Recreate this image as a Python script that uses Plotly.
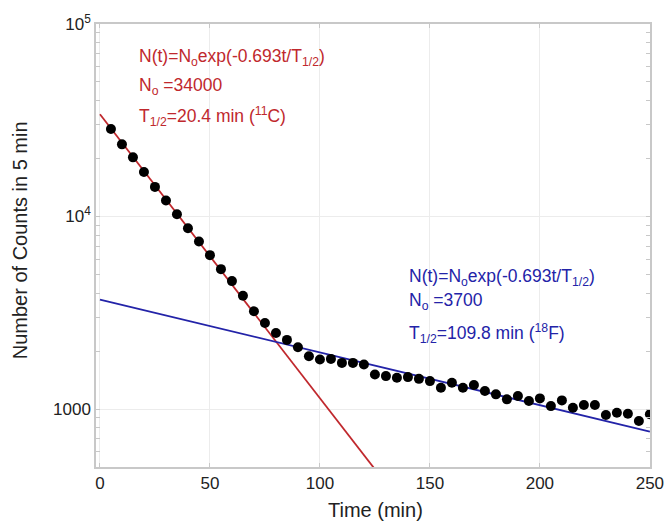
import numpy as np
import plotly.graph_objects as go

# Measured data (counts in 5 min)
time_min = [5, 10, 15, 20, 25, 30, 35, 40, 45, 50,
            55, 60, 65, 70, 75, 80, 85, 90, 95, 100,
            105, 110, 115, 120, 125, 130, 135, 140, 145, 150,
            155, 160, 165, 170, 175, 180, 185, 190, 195, 200,
            205, 210, 215, 220, 225, 230, 235, 240, 245, 250]
counts = [28480, 23700, 20290, 17040, 14250, 12100, 10280, 8700, 7420, 6300,
          5330, 4620, 3880, 3220, 2800, 2485, 2286, 2095, 1882, 1809,
          1822, 1737, 1737, 1704, 1513, 1483, 1453, 1465, 1435, 1397,
          1290, 1369, 1290, 1332, 1240, 1192, 1123, 1168, 1100, 1136,
          1036, 1109, 1016, 1049, 1049, 931, 957, 945, 867, 939]

# Fit parameters
c11_N0, c11_T = 34000, 20.4
f18_N0, f18_T = 3700, 109.8

x_ticks = [0, 50, 100, 150, 200, 250]
y_ticks = [1000, 10000, 100000]
y_ticktext = ["1000", "10<sup>4</sup>", "10<sup>5</sup>"]
y_minor = [600, 700, 800, 900] + [k * 1000 for k in range(2, 10)] + [k * 10000 for k in range(2, 10)]

t_c = np.linspace(0, 130, 50)
t_f = np.linspace(0, 250, 50)
fit_c = c11_N0 * np.exp(-0.693 * t_c / c11_T)
fit_f = f18_N0 * np.exp(-0.693 * t_f / f18_T)

RED = "#c0282d"
BLUE = "#2323a8"
FONT = "Liberation Sans, Arial, sans-serif"

fig = go.Figure()
fig.add_trace(go.Scatter(x=t_c, y=fit_c, mode="lines", line=dict(color=RED, width=1.8), showlegend=False))
fig.add_trace(go.Scatter(x=t_f, y=fit_f, mode="lines", line=dict(color=BLUE, width=1.8), showlegend=False))
fig.add_trace(go.Scatter(x=time_min, y=counts, mode="markers",
                         marker=dict(color="black", size=10), showlegend=False))

axis_common = dict(showline=True, linecolor="#c8c8c8", linewidth=1.5, mirror="ticks",
                   ticks="inside", ticklen=4, tickcolor="#c8c8c8",
                   showgrid=True, gridcolor="#ececec", gridwidth=1, zeroline=False,
                   ticklabeloverflow="allow", automargin=False,
                   tickfont=dict(family=FONT, size=17, color="#222222"))

fig.update_xaxes(range=[-1.8, 250.05], tickvals=x_ticks, **axis_common)
fig.update_yaxes(type="log", range=[np.log10(500), 5], tickvals=y_ticks, ticktext=y_ticktext,
                 minor=dict(tickvals=y_minor, ticks="inside", ticklen=4, tickcolor="#c8c8c8", showgrid=False),
                 **axis_common)

annots = []
def txt(x, y, s, color):
    annots.append(dict(x=x, y=y, xref="x", yref="y", text=s, showarrow=False,
                       xanchor="left", yanchor="middle",
                       font=dict(family=FONT, size=17.5, color=color)))

txt(16.8, 4.825, "N(t)=N<sub>o</sub>exp(-0.693t/T<sub>1/2</sub>)", RED)
txt(16.8, 4.675, "N<sub>o</sub> =34000", RED)
txt(16.8, 4.52, "T<sub>1/2</sub>=20.4 min (<sup>11</sup>C)", RED)
txt(139.4, 3.685, "N(t)=N<sub>o</sub>exp(-0.693t/T<sub>1/2</sub>)", BLUE)
txt(139.4, 3.56, "N<sub>o</sub> =3700", BLUE)
txt(139.4, 3.395, "T<sub>1/2</sub>=109.8 min (<sup>18</sup>F)", BLUE)

annots.append(dict(x=0.505, y=-0.097, xref="paper", yref="paper", text="Time (min)", showarrow=False,
                   xanchor="center", yanchor="middle", font=dict(family=FONT, size=20, color="#222222")))
annots.append(dict(x=-0.137, y=0.512, xref="paper", yref="paper", text="Number of Counts in 5 min",
                   showarrow=False, textangle=-90, xanchor="center", yanchor="middle",
                   font=dict(family=FONT, size=20, color="#222222")))

fig.update_layout(width=664, height=521, margin=dict(l=96, r=14, t=24, b=54, autoexpand=False),
                  paper_bgcolor="white", plot_bgcolor="white", annotations=annots)

fig.write_html("out.html")
